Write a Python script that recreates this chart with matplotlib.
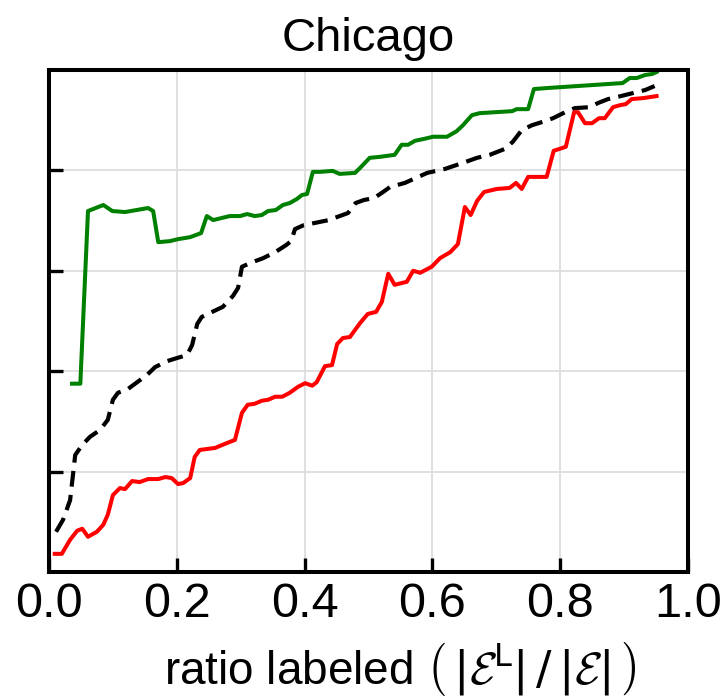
import numpy as np
import matplotlib
matplotlib.use('Agg')
import matplotlib.pyplot as plt

# ratio labeled (x) and scores for three methods
green_x = [0.036, 0.049, 0.061, 0.085, 0.099, 0.119, 0.155, 0.163, 0.171, 0.189,
           0.202, 0.221, 0.238, 0.247, 0.257, 0.283, 0.299, 0.310, 0.322, 0.333,
           0.343, 0.355, 0.366, 0.377, 0.388, 0.396, 0.404, 0.413, 0.424, 0.444,
           0.455, 0.479, 0.487, 0.502, 0.518, 0.541, 0.552, 0.562, 0.573, 0.588,
           0.601, 0.623, 0.638, 0.648, 0.662, 0.674, 0.725, 0.732, 0.750, 0.759,
           0.779, 0.898, 0.909, 0.920, 0.933, 0.944, 0.951]
green_y = [0.375, 0.375, 0.719, 0.731, 0.719, 0.717, 0.725, 0.719, 0.657, 0.659,
           0.663, 0.667, 0.675, 0.709, 0.701, 0.709, 0.709, 0.713, 0.709, 0.711,
           0.719, 0.721, 0.731, 0.735, 0.743, 0.751, 0.753, 0.797, 0.797, 0.799,
           0.793, 0.795, 0.805, 0.825, 0.827, 0.831, 0.851, 0.851, 0.859, 0.863,
           0.867, 0.867, 0.878, 0.890, 0.910, 0.914, 0.918, 0.922, 0.922, 0.962,
           0.964, 0.974, 0.984, 0.984, 0.990, 0.992, 0.996]

black_x = [0.011, 0.022, 0.033, 0.041, 0.052, 0.064, 0.080, 0.092, 0.100, 0.108,
           0.122, 0.138, 0.153, 0.166, 0.185, 0.200, 0.216, 0.224, 0.232, 0.239,
           0.252, 0.272, 0.288, 0.296, 0.302, 0.316, 0.335, 0.354, 0.371, 0.379,
           0.385, 0.399, 0.415, 0.438, 0.455, 0.468, 0.480, 0.493, 0.509, 0.523,
           0.534, 0.557, 0.592, 0.620, 0.648, 0.670, 0.690, 0.714, 0.726, 0.740,
           0.756, 0.776, 0.789, 0.808, 0.823, 0.847, 0.859, 0.875, 0.895, 0.914,
           0.933, 0.948]
black_y = [0.080, 0.104, 0.143, 0.233, 0.253, 0.269, 0.283, 0.303, 0.343, 0.357,
           0.363, 0.378, 0.392, 0.408, 0.420, 0.426, 0.432, 0.452, 0.494, 0.508,
           0.516, 0.528, 0.550, 0.566, 0.608, 0.616, 0.625, 0.637, 0.651, 0.659,
           0.683, 0.691, 0.695, 0.701, 0.709, 0.715, 0.735, 0.741, 0.745, 0.757,
           0.767, 0.775, 0.795, 0.803, 0.815, 0.825, 0.831, 0.843, 0.857, 0.880,
           0.890, 0.898, 0.904, 0.916, 0.924, 0.926, 0.934, 0.942, 0.948, 0.954,
           0.960, 0.968]

red_x = [0.009, 0.020, 0.033, 0.044, 0.052, 0.061, 0.075, 0.085, 0.092, 0.100,
         0.111, 0.119, 0.130, 0.142, 0.155, 0.171, 0.182, 0.192, 0.202, 0.210,
         0.221, 0.228, 0.236, 0.260, 0.279, 0.291, 0.302, 0.311, 0.322, 0.333,
         0.343, 0.354, 0.365, 0.377, 0.390, 0.401, 0.412, 0.419, 0.432, 0.443,
         0.451, 0.460, 0.471, 0.487, 0.499, 0.512, 0.521, 0.531, 0.541, 0.560,
         0.570, 0.581, 0.599, 0.612, 0.628, 0.640, 0.651, 0.660, 0.670, 0.681,
         0.701, 0.721, 0.731, 0.740, 0.750, 0.779, 0.790, 0.809, 0.822, 0.828,
         0.839, 0.850, 0.861, 0.870, 0.883, 0.894, 0.903, 0.912, 0.930, 0.951]
red_y = [0.036, 0.036, 0.064, 0.082, 0.086, 0.070, 0.080, 0.094, 0.114, 0.153,
         0.167, 0.165, 0.181, 0.179, 0.185, 0.185, 0.189, 0.187, 0.175, 0.177,
         0.187, 0.229, 0.243, 0.247, 0.257, 0.263, 0.317, 0.333, 0.335, 0.341,
         0.343, 0.349, 0.349, 0.357, 0.369, 0.376, 0.371, 0.378, 0.410, 0.412,
         0.454, 0.466, 0.468, 0.496, 0.514, 0.518, 0.538, 0.594, 0.572, 0.578,
         0.600, 0.596, 0.608, 0.625, 0.637, 0.653, 0.727, 0.711, 0.739, 0.757,
         0.763, 0.765, 0.775, 0.763, 0.787, 0.787, 0.839, 0.847, 0.916, 0.916,
         0.894, 0.894, 0.904, 0.904, 0.926, 0.930, 0.932, 0.942, 0.944, 0.948]

plt.rcParams['font.family'] = ['Liberation Sans Narrow', 'Liberation Sans', 'DejaVu Sans']
plt.rcParams['mathtext.fontset'] = 'custom'
plt.rcParams['mathtext.rm'] = 'Liberation Sans Narrow'
plt.rcParams['mathtext.it'] = 'Liberation Sans Narrow'
plt.rcParams['mathtext.cal'] = 'cmsy10'

fig = plt.figure(figsize=(7.21, 7.0), dpi=100)
ax = fig.add_axes([0.068, 0.183, 0.886, 0.717])

ax.plot(green_x, green_y, color='green', lw=2.9)
ax.plot(black_x, black_y, color='black', lw=3.0, ls=(0, (3.8, 2.0)))
ax.plot(red_x, red_y, color='red', lw=2.9)

ax.set_xlim(0, 1.0)
ax.set_ylim(0, 1.0)
ax.set_xticks([0.0, 0.2, 0.4, 0.6, 0.8, 1.0])
ax.set_xticklabels(['0.0', '0.2', '0.4', '0.6', '0.8', '1.0'])
ax.set_yticks([0.2, 0.4, 0.6, 0.8])
ax.set_yticklabels([])
ax.tick_params(direction='in', length=10, width=2.4, labelsize=35, pad=7)
ax.grid(True, color='#dddddd', lw=1.3)
ax.set_axisbelow(True)
for s in ax.spines.values():
    s.set_linewidth(2.9)

ax.set_title('Chicago', fontsize=34, pad=14)
ax.set_xlabel(r'ratio labeled $\left(\,|\mathcal{E}^{\mathrm{L}}|\,/\,|\mathcal{E}|\,\right)$',
              fontsize=33)
ax.xaxis.set_label_coords(0.55, -0.135)

fig.savefig('out.png', dpi=100)
